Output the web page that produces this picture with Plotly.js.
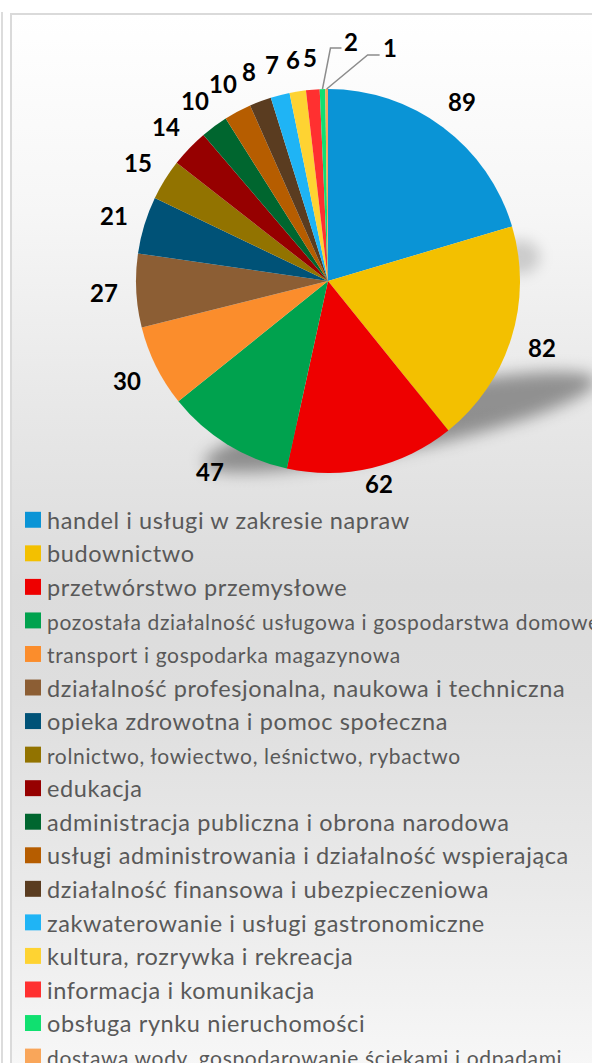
<!DOCTYPE html>
<html>
<head>
<meta charset="utf-8">
<script src="https://cdn.plot.ly/plotly-3.0.1.min.js"></script>
<style>
  html, body { margin:0; padding:0; width:592px; height:1063px; overflow:hidden; background:#ffffff; }
  #leftline { position:absolute; left:1px; top:12px; width:2px; height:1100px; background:#dcdcdc; }
  #frame { position:absolute; left:10px; top:13px; width:620px; height:1100px;
           border:2px solid #dadada; box-sizing:border-box;
           background: linear-gradient(to bottom, #ffffff 0%, #f6f6f6 18%, #e6e6e6 38%, #dcdcdc 52%, #dedede 62%, #eaeaea 80%, #f7f7f7 96%); }
  #shadow { position:absolute; left:200px; top:393px; width:400px; height:58px; border-radius:50%;
            background: rgba(0,0,0,0.38); filter: blur(8px); transform: rotate(-12deg); }
  #shadow2 { position:absolute; left:500px; top:240px; width:40px; height:34px; border-radius:50%;
            background: rgba(0,0,0,0.16); filter: blur(7px); }
  #chart { position:absolute; left:0; top:0; width:592px; height:1150px; }
</style>
</head>
<body>
<div id="leftline"></div>
<div id="frame"></div>
<div id="shadow2"></div>
<div id="shadow"></div>
<div id="chart"></div>
<script>
const categories = [
  "handel i usługi w zakresie napraw",
  "budownictwo",
  "przetwórstwo przemysłowe",
  "pozostała działalność usługowa i gospodarstwa domowe",
  "transport i gospodarka magazynowa",
  "działalność profesjonalna, naukowa i techniczna",
  "opieka zdrowotna i pomoc społeczna",
  "rolnictwo, łowiectwo, leśnictwo, rybactwo",
  "edukacja",
  "administracja publiczna i obrona narodowa",
  "usługi administrowania i działalność wspierająca",
  "działalność finansowa i ubezpieczeniowa",
  "zakwaterowanie i usługi gastronomiczne",
  "kultura, rozrywka i rekreacja",
  "informacja i komunikacja",
  "obsługa rynku nieruchomości",
  "dostawa wody, gospodarowanie ściekami i odpadami"
];
const values = [89, 82, 62, 47, 30, 27, 21, 15, 14, 10, 10, 8, 7, 6, 5, 2, 1];
const colors = [
  "#0a94d6", "#f3c000", "#ee0000", "#00a24e", "#fb8d2c", "#8c5e34",
  "#005277", "#927300", "#960000", "#00662f", "#b65d00", "#5a3c20",
  "#1fb4f5", "#fed332", "#ff3030", "#10e070", "#f9a65a"
];
// legend entries shown in a smaller font in the original
const smallEntries = [
  "pozostała działalność usługowa i gospodarstwa domowe",
  "transport i gospodarka magazynowa",
  "rolnictwo, łowiectwo, leśnictwo, rybactwo",
  "dostawa wody, gospodarowanie ściekami i odpadami"
];

const labels = categories.map(c =>
  smallEntries.includes(c)
    ? '<span style="font-size:21px;letter-spacing:0.65px">' + c + '</span>'
    : '<span style="letter-spacing:0.6px">' + c + '</span>');

const W = 592, H = 1150;
const cx = 328, cy = 281, r = 192;     // pie centre / radius in px
const labelR = 224;                      // radius of value labels (px)
const labelMaxY = 484;                   // labels kept above the legend area
// leader-line offsets (px) for the thinnest slices: elbow dx, dy, horizontal run, label dx, dy
const leaderStyle = { minValue: 3, elbows: [[8, -41, 11, 10, -7], [41, -34, 12, 10, -8]] };

const FONT = 'Lato, "Open Sans", sans-serif';
const total = values.reduce((a, b) => a + b, 0);
const px2x = x => x / W, px2y = y => 1 - y / H;

const annotations = [];
const shapes = [];
let cum = 0, leaderIdx = 0;
values.forEach((v, i) => {
  const mid = (cum + v / 2) / total * 2 * Math.PI;
  cum += v;
  const sx = Math.sin(mid), sy = -Math.cos(mid);
  let tx, ty;
  if (v < leaderStyle.minValue) {
    const e = leaderStyle.elbows[leaderIdx++];
    const ex = cx + r * sx, ey = cy + r * sy;
    const bx = ex + e[0], by = ey + e[1];
    const hx = bx + e[2];
    shapes.push({
      type: 'path', xref: 'paper', yref: 'paper',
      path: `M ${px2x(ex)},${px2y(ey)} L ${px2x(bx)},${px2y(by)} L ${px2x(hx)},${px2y(by)}`,
      line: { color: '#8c8c8c', width: 1.5 }
    });
    tx = hx + e[3]; ty = by + e[4];
  } else {
    tx = cx + labelR * sx; ty = Math.min(cy + labelR * sy, labelMaxY);
  }
  annotations.push({
    xref: 'paper', yref: 'paper', x: px2x(tx), y: px2y(ty),
    xanchor: 'center', yanchor: 'middle', showarrow: false,
    text: String(v),
    font: { family: FONT, size: 24, color: '#000000', weight: 'bold' }
  });
});

const trace = {
  type: 'pie',
  labels: labels,
  values: values,
  sort: false,
  direction: 'clockwise',
  rotation: 0,
  marker: { colors: colors, line: { width: 0 } },
  textinfo: 'none',
  hoverinfo: 'label+value',
  domain: {
    x: [(cx - r) / W, (cx + r) / W],
    y: [1 - (cy + r) / H, 1 - (cy - r) / H]
  },
  automargin: false
};

const layout = {
  width: W,
  height: H,
  margin: { l: 0, r: 0, t: 0, b: 0, autoexpand: false },
  paper_bgcolor: 'rgba(0,0,0,0)',
  plot_bgcolor: 'rgba(0,0,0,0)',
  showlegend: true,
  annotations: annotations,
  shapes: shapes,
  legend: {
    x: 7 / W, y: 1 - 498 / H, xanchor: 'left', yanchor: 'top',
    font: { family: FONT, size: 23.5, color: '#595959' },
    bgcolor: 'rgba(0,0,0,0)',
    traceorder: 'normal',
    itemclick: false, itemdoubleclick: false
  }
};

Plotly.newPlot('chart', [trace], layout, { displayModeBar: false, staticPlot: true }).then(gd => {
  // enlarge the legend swatches to match the original's bigger squares
  gd.querySelectorAll('.legend .legendpoints path').forEach(p => {
    p.setAttribute('transform', 'translate(26,0) scale(1.33)');
  });
});
</script>
</body>
</html>
